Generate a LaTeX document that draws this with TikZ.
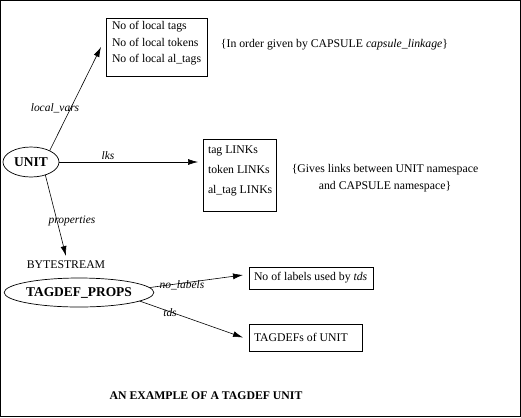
\documentclass[tikz,border=0pt]{standalone}
\usepackage{fontspec}
\setmainfont{Liberation Serif}
\usetikzlibrary{arrows.meta,shapes.geometric}
\begin{document}
\begin{tikzpicture}[x=1bp,y=-1bp,
 every node/.style={inner sep=0pt, outer sep=0pt},
 txt/.style={font=\fontsize{11.8}{16.5}\selectfont},
 lbl/.style={font=\fontsize{11.5}{13}\selectfont\itshape},
 box/.style={draw, line width=0.7bp},
 oval/.style={draw, ellipse, line width=0.7bp, font=\fontsize{13.5}{15}\selectfont\bfseries},
 arr/.style={line width=0.6bp, -{Latex[length=10bp,width=6bp]}},
]
\useasboundingbox (0,0) rectangle (521,417);
\draw[line width=1bp] (0.5,0.5) rectangle (520,416);

% ellipses
\node[oval, minimum width=56bp, minimum height=30bp] (unit) at (31,162) {UNIT};
\node[oval, minimum width=136bp, minimum height=29bp] (tp) at (79,292.5) {TAGDEF\_PROPS};
\node[font=\fontsize{11.8}{13}\selectfont] (bs) at (66,265) {BYTESTREAM};

% boxes
\node[box, minimum width=101bp, minimum height=58bp] (b1) at (156.5,47) {};
\node[txt, align=left, anchor=west] (b1t) at (112,43.5) {No of local tags\\No of local tokens\\No of local al\_tags};
\node[box, minimum width=73bp, minimum height=72bp] (b2) at (239.5,175) {};
\node[font=\fontsize{11.8}{20}\selectfont, align=left, anchor=west] (b2t) at (208,171) {tag LINKs\\token LINKs\\al\_tag LINKs};
\node[box, minimum width=124bp, minimum height=22bp] (b3) at (311,278) {};
\node[txt, anchor=west] (b3t) at (254,278) {No of labels used by \textit{tds}};
\node[box, minimum width=113bp, minimum height=27bp] (b4) at (305.5,337.5) {};
\node[txt, anchor=west] (b4t) at (254,337.5) {TAGDEFs of UNIT};

% annotations
\node[txt] (n1) at (334.5,45) {\{In order given by CAPSULE \textit{capsule\_linkage}\}};
\node[font=\fontsize{11.8}{17}\selectfont, align=center] (n2) at (385,178) {\{Gives links between UNIT namespace\\and CAPSULE namespace\}};
\node[font=\fontsize{11.8}{13}\selectfont\bfseries] (title) at (206,396) {AN EXAMPLE OF A TAGDEF UNIT};

% connectors
\draw[arr] (unit.31) -- ([xshift=-5bp]b1.west);
\draw[arr] (unit.east) -- ([xshift=-5bp]unit.east -| b2.west);
\draw[arr] (unit.-42) -- ([yshift=5bp]bs.north);
\draw[arr] (tp.4) -- ([xshift=-6bp,yshift=3bp]b3.west);
\draw[arr] (tp.-8) -- ([xshift=-6bp]b4.west);

% labels
\node[lbl] (lv) at (55,108) {local\_vars};
\node[lbl] (lk) at (108,156) {lks};
\node[lbl] (pr) at (72,221) {properties};
\node[lbl] (nl) at (182,285) {no\_labels};
\node[lbl] (td) at (170,313) {tds};
\end{tikzpicture}
\end{document}
